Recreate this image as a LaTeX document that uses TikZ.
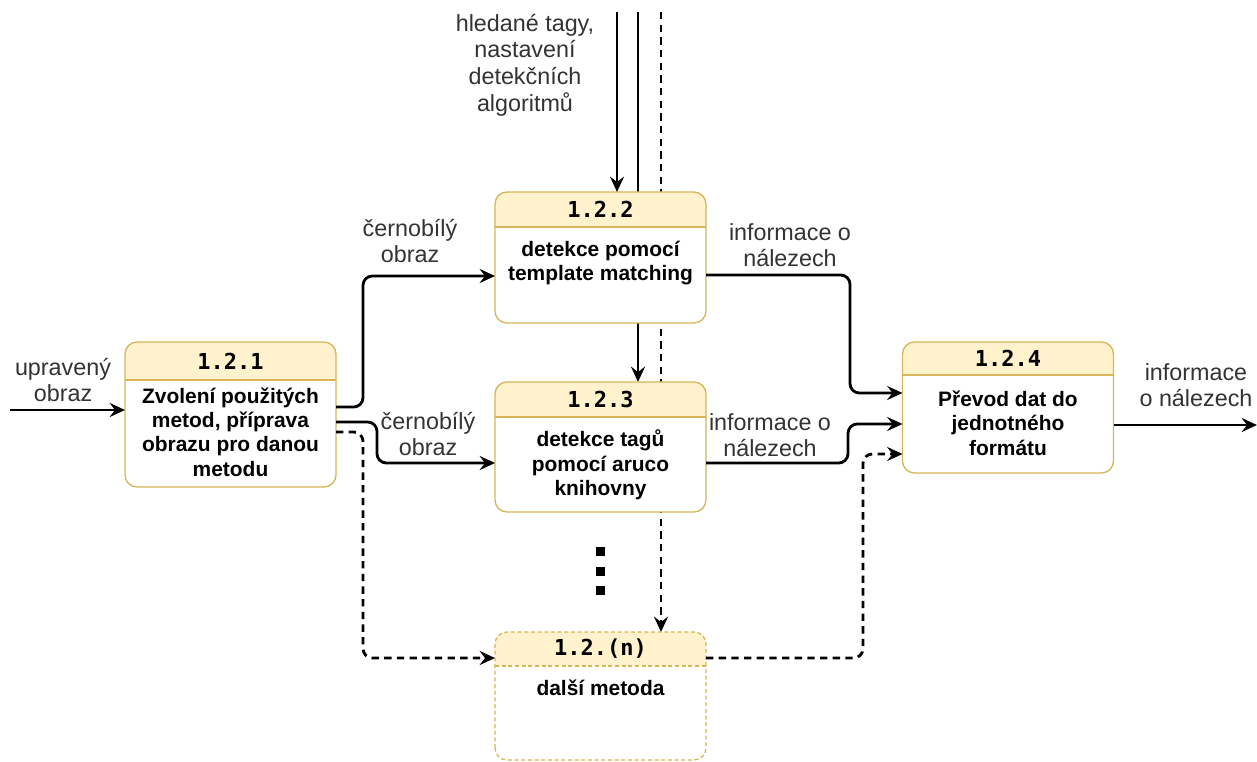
\documentclass[tikz,border=0pt]{standalone}
\usepackage{fontspec}
\setmainfont{Liberation Sans}
\newfontfamily\hdrfont{DejaVu Sans Mono}
\usetikzlibrary{arrows.meta,calc}

\definecolor{hdrfill}{HTML}{FFF2CC}
\definecolor{hdrdraw}{HTML}{D6B656}
\definecolor{labelgray}{HTML}{333333}

% process box: [extra style]{name}{centre x}{top y}{height}{header height}{body centre y}{number}{text}
\newcommand\procbox[9][]{%
  \node[box,minimum width={211*0.75pt},minimum height={#5*0.75pt},anchor=north] (#2) at (#3,#4) {};
  \begin{scope}
    \clip[rounded corners=9pt] (#2.south west) rectangle (#2.north east);
    \fill[hdrfill] (#2.north west) rectangle ($(#2.north east)+(0,#6)$);
  \end{scope}
  \draw[boxline,#1] ($(#2.north west)+(0,#6)$) -- ($(#2.north east)+(0,#6)$);
  \draw[boxline,#1,rounded corners=9pt] (#2.south west) rectangle (#2.north east);
  \node[hdrtext] (#2-h) at ($(#2.north)+(0,#6/2)$) {#8};
  \node[bodytext] (#2-b) at (#3,#7) {#9};
}

\begin{document}
\begin{tikzpicture}[x=0.75pt,y=-0.75pt,
  box/.style={fill=white,draw=none,rounded corners=9pt,inner sep=0pt,outer sep=0pt},
  boxline/.style={draw=hdrdraw,line width=1pt},
  dashedbox/.style={dash pattern=on 3pt off 2pt},
  hdrtext/.style={font=\hdrfont\bfseries\fontsize{16.5}{19}\selectfont,inner sep=0pt},
  bodytext/.style={font=\bfseries\fontsize{15.7}{18.3}\selectfont,align=center,inner sep=0pt},
  lbl/.style={font=\fontsize{17.5}{20}\selectfont,align=center,text=labelgray,inner sep=0pt},
  flow/.style={line width=2.1pt,rounded corners=7pt,
    -{Stealth[length=11.5pt,width=10.5pt,inset=4pt]}},
  dflow/.style={flow,dash pattern=on 5.5pt off 4pt},
]
\useasboundingbox[fill=white] (0,0) rectangle (1257,762);

% entry points of the incoming lines
\coordinate (src) at (10,410);
\coordinate (topA) at (617,12);
\coordinate (topB) at (638,12);
\coordinate (topC) at (661,12);
\coordinate (dst) at (1257,425);

% long vertical lines passing behind the boxes
\coordinate (b3top) at (638,382);
\coordinate (bntop) at (661,632);
\draw[flow] (topB) -- (b3top);
\draw[dflow] (topC) -- (bntop);

% boxes
\procbox{b1}{230.5}{342}{145}{38}{432}{1.2.1}{Zvolení použitých\\metod, příprava\\obrazu pro danou\\metodu}
\procbox{b2}{600.5}{192}{131}{35}{263}{1.2.2}{detekce pomocí\\template matching}
\procbox{b3}{600.5}{382}{130}{35}{465}{1.2.3}{detekce tagů\\pomocí aruco\\knihovny}
\procbox{b4}{1008}{342}{131}{33}{423}{1.2.4}{Převod dat do\\jednotného\\formátu}
\procbox[dashedbox]{bn}{600.5}{632}{128}{34}{688}{1.2.(n)}{další metoda}

% vertical input from the top
\draw[flow] (topA) -- (b2.north -| topA);

% connectors
\draw[flow] (src) -- (b1.west |- src);
\draw[flow] (b1.east |- 0,407) -- (363,407) -- (363,276) -- (b2.west |- 0,276);
\draw[flow] (b1.east |- 0,422) -- (377,422) -- (377,463) -- (b3.west |- 0,463);
\draw[dflow] (b1.east |- 0,432) -- (363,432) -- (363,658) -- (bn.west |- 0,658);
\draw[flow] (b2.east |- 0,275) -- (850,275) -- (850,393) -- (b4.west |- 0,393);
\draw[flow] (b3.east |- 0,463) -- (848,463) -- (848,424) -- (b4.west |- 0,424);
\draw[dflow] (bn.east |- 0,658) -- (863,658) -- (863,454) -- (b4.west |- 0,454);
\draw[flow] (b4.east |- dst) -- (dst);

% ellipsis between the method boxes
\foreach \yy in {552,572,591}
  \fill (595.5,\yy-4.5) rectangle (604.5,\yy+4.5);

% labels
\node[lbl] (l-in) at (63,380) {upravený\\obraz};
\node[lbl] (l-top) at (525,65) {hledané tagy,\\nastavení\\detekčních\\algoritmů};
\node[lbl] (l-c1) at (410,241) {černobílý\\obraz};
\node[lbl] (l-c2) at (428,434) {černobílý\\obraz};
\node[lbl] (l-i1) at (790,245) {informace o\\nálezech};
\node[lbl] (l-i2) at (770,435) {informace o\\nálezech};
\node[lbl] (l-out) at (1196,385) {informace\\o nálezech};
\end{tikzpicture}
\end{document}
